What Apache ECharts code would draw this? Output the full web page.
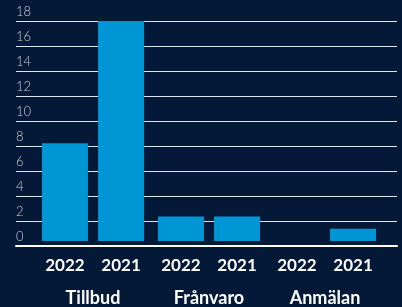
<!DOCTYPE html>
<html>
<head>
<meta charset="utf-8">
<style>
  html, body { margin: 0; padding: 0; background: #031937; }
  #chart { width: 402px; height: 307px; }
</style>
<script src="https://cdn.jsdelivr.net/npm/echarts@6/dist/echarts.min.js"></script>
</head>
<body>
<div id="chart"></div>
<script>
const groups = ['Tillbud', 'Frånvaro', 'Anmälan'];
const seriesNames = ['2022', '2021'];
const values2022 = [8, 2, 0];
const values2021 = [18, 2, 1];
const yTicks = { min: 0, max: 18, interval: 2 };

const chart = echarts.init(document.getElementById('chart'), null, { renderer: 'canvas' });

const barColor = '#0096d6';
const labelFont = 'Lato, "Noto Sans", sans-serif';

function barSeries(name, data) {
  return {
    name: name,
    type: 'bar',
    xAxisIndex: 1,
    yAxisIndex: 1,
    data: data,
    barWidth: 46,
    barGap: '22%',
    itemStyle: { color: barColor },
    label: {
      show: true,
      position: 'bottom',
      distance: 16,
      formatter: '{a}',
      color: '#ffffff',
      fontFamily: labelFont,
      fontWeight: 'bold',
      fontSize: 17
    },
    z: 3
  };
}

chart.setOption({
  backgroundColor: '#031937',
  animation: false,
  grid: [
    { left: 16, right: 5, top: 21, height: 225 },
    { left: 35, width: 348, top: 21, height: 225 }
  ],
  xAxis: [
    {
      gridIndex: 0,
      type: 'category',
      data: groups,
      axisLine: { show: true, lineStyle: { color: '#ffffff', width: 2 } },
      axisTick: { show: false },
      axisLabel: { show: false },
      splitLine: { show: false },
      z: 4
    },
    {
      gridIndex: 1,
      type: 'category',
      data: groups,
      axisLine: { show: false },
      axisTick: { show: false },
      axisLabel: {
        show: true,
        margin: 48,
        color: '#ffffff',
        fontFamily: labelFont,
        fontWeight: 'bold',
        fontSize: 18
      }
    }
  ],
  yAxis: [
    {
      gridIndex: 0,
      type: 'value',
      min: yTicks.min,
      max: yTicks.max,
      interval: yTicks.interval,
      axisLine: { show: false },
      axisTick: { show: false },
      axisLabel: {
        inside: true,
        margin: 0,
        align: 'left',
        verticalAlign: 'bottom',
        padding: [0, 0, 3, 0],
        color: '#c9ced8',
        fontFamily: labelFont,
        fontWeight: 300,
        fontSize: 13
      },
      splitLine: { show: true, lineStyle: { color: '#dfe3ea', width: 1 } }
    },
    {
      gridIndex: 1,
      type: 'value',
      min: yTicks.min,
      max: yTicks.max,
      interval: yTicks.interval,
      show: false
    }
  ],
  series: [
    barSeries(seriesNames[0], values2022),
    barSeries(seriesNames[1], values2021)
  ]
});
</script>
</body>
</html>
